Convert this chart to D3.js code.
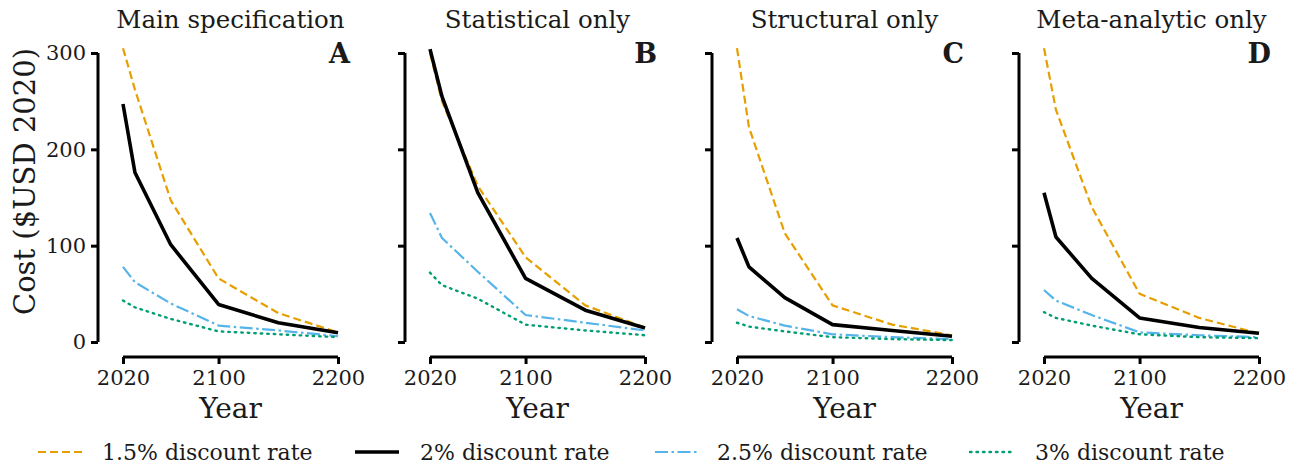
<!DOCTYPE html>
<html>
<head>
<meta charset="utf-8">
<script src="https://cdn.jsdelivr.net/npm/d3@7/dist/d3.min.js"></script>
<style>
  html, body { margin: 0; padding: 0; background: #fff; }
  text { font-family: "DejaVu Serif", serif; fill: #1a1a1a; }
</style>
</head>
<body>
<svg id="chart" width="1307" height="464"></svg>
<script>
// ---- data ----
const years = [2020, 2030, 2060, 2100, 2150, 2200];
const panelTitles = ["Main specification", "Statistical only", "Structural only", "Meta-analytic only"];
const panelLetters = ["A", "B", "C", "D"];
const seriesNames = ["1.5% discount rate", "2% discount rate", "2.5% discount rate", "3% discount rate"];
const xTicks = [2020, 2100, 2200];
const yTicks = [0, 100, 200, 300];

// values per panel, per series (1.5%, 2%, 2.5%, 3%)
const mainSpec = [
  [305, 262, 147, 66, 30, 10],
  [247, 176, 101, 39, 20, 9.5],
  [78, 62, 40, 17, 12, 6],
  [43, 36, 24, 11, 8, 5]
];
const statisticalOnly = [
  [300, 250, 162, 88, 38, 15],
  [304, 255, 155, 66, 33, 14.5],
  [134, 108, 73, 28, 20, 12],
  [72, 59, 45, 18, 12, 7]
];
const structuralOnly = [
  [305, 223, 113, 38, 18, 7],
  [108, 78, 46, 18, 12, 6],
  [34, 27, 17, 8, 5, 3],
  [20, 16, 11, 5, 3, 2]
];
const metaOnly = [
  [305, 241, 140, 50, 25, 9],
  [155, 109, 66, 25, 15, 9],
  [54, 43, 28, 10, 7, 5],
  [31, 25, 17, 8, 5, 4]
];
const panels = [mainSpec, statisticalOnly, structuralOnly, metaOnly];

// ---- styles ----
const styles = [
  { color: "#E69F00", width: 2.2, dash: "8,4" },
  { color: "#000000", width: 3.6, dash: null },
  { color: "#56B4E9", width: 2.2, dash: "13,3.5,2.5,3.5" },
  { color: "#009E73", width: 2.4, dash: "1.5,5" }
];

const svg = d3.select("#chart");
const panelStep = 307;
const x0 = 123, xw = 215;
const yTop = 53, yBot = 342;

const y = d3.scaleLinear().domain([0, 300]).range([yBot, yTop]);

panels.forEach((data, pi) => {
  const left = x0 + pi * panelStep;
  const x = d3.scaleLinear().domain([2020, 2200]).range([left, left + xw]);
  const g = svg.append("g");

  // y axis
  const yAxis = g.append("g")
    .attr("transform", `translate(${left - 25},0)`)
    .call(d3.axisLeft(y).tickValues(yTicks).tickSize(7).tickPadding(5).tickFormat(pi === 0 ? d3.format("d") : () => ""));
  yAxis.select(".domain").attr("d", `M0,${yBot}V${yTop}`).attr("stroke", "#000").attr("stroke-width", 3);
  yAxis.selectAll(".tick line").attr("stroke", "#000").attr("stroke-width", 3);
  yAxis.selectAll(".tick text").style("font-size", "21px").style("font-family", "DejaVu Serif").attr("fill", "#1a1a1a");

  // x axis
  const xAxis = g.append("g")
    .attr("transform", `translate(0,357)`)
    .call(d3.axisBottom(x).tickValues(xTicks).tickSize(7).tickPadding(6).tickFormat(d3.format("d")));
  xAxis.select(".domain").attr("d", `M${left},0H${left + xw}`).attr("stroke", "#000").attr("stroke-width", 3);
  xAxis.selectAll(".tick line").attr("stroke", "#000").attr("stroke-width", 3);
  xAxis.selectAll(".tick text").style("font-size", "21px").style("font-family", "DejaVu Serif").attr("fill", "#1a1a1a");

  // x label
  g.append("text").attr("x", left + xw / 2).attr("y", 418)
    .attr("text-anchor", "middle").style("font-size", "28px").text("Year");

  // title
  g.append("text").attr("x", left + xw / 2).attr("y", 28)
    .attr("text-anchor", "middle").style("font-size", "24.5px").text(panelTitles[pi]);

  // letter
  g.append("text").attr("x", left + xw + 12).attr("y", 63)
    .attr("text-anchor", "end").style("font-size", "27px").style("font-weight", "bold").text(panelLetters[pi]);

  const line = d3.line().x((d, i) => x(years[i])).y(d => y(d));
  data.forEach((vals, si) => {
    const s = styles[si];
    g.append("path").datum(vals)
      .attr("d", line)
      .attr("fill", "none")
      .attr("stroke", s.color)
      .attr("stroke-width", s.width)
      .attr("stroke-linejoin", "round")
      .attr("stroke-linecap", si === 3 ? "round" : "butt")
      .attr("stroke-dasharray", s.dash);
  });
});

// y label
svg.append("text")
  .attr("transform", `translate(35,${(yTop + yBot) / 2 - 16}) rotate(-90)`)
  .attr("text-anchor", "middle").style("font-size", "29px")
  .text("Cost ($USD 2020)");

// legend
const legendItems = [
  { lx: 38, tx: 102 },
  { lx: 355, tx: 420 },
  { lx: 655, tx: 717 },
  { lx: 970, tx: 1035 }
];
const legY = 452;
seriesNames.forEach((name, si) => {
  const s = styles[si];
  const it = legendItems[si];
  svg.append("line")
    .attr("x1", it.lx).attr("x2", it.lx + 44)
    .attr("y1", legY).attr("y2", legY)
    .attr("stroke", s.color).attr("stroke-width", s.width)
    .attr("stroke-linecap", si === 3 ? "round" : "butt")
    .attr("stroke-dasharray", s.dash);
  svg.append("text").attr("x", it.tx).attr("y", legY + 8)
    .style("font-size", "22px").text(name);
});
</script>
</body>
</html>
